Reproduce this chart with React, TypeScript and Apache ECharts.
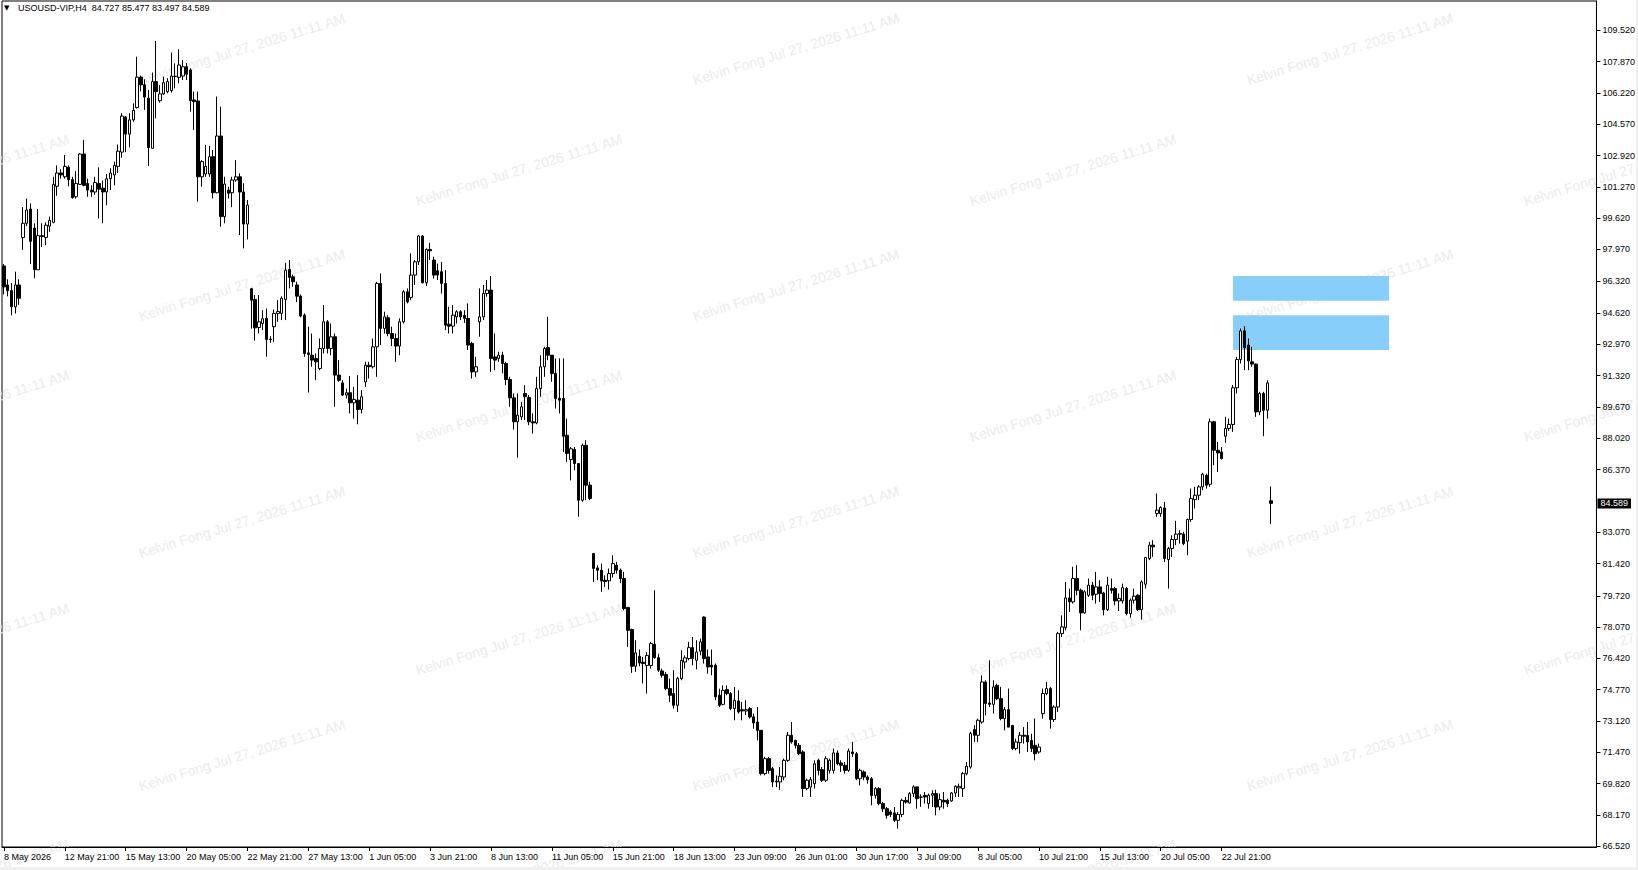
import React, { useEffect, useRef } from "react";
import * as echarts from "echarts";

// ---------- data ----------
const symbolTitle = "USOUSD-VIP,H4";
const lastQuote = ["84.727", "85.477", "83.497", "84.589"];
const currentPrice = 84.589;
const watermarkText = "Kelvin Fong Jul 27, 2026 11:11 AM";

const yTickValues = [
  66.52, 68.17, 69.82, 71.47, 73.12, 74.77, 76.42, 78.07, 79.72, 81.42, 83.07,
  86.37, 88.02, 89.67, 91.32, 92.97, 94.62, 96.32, 97.97, 99.62, 101.27, 102.92,
  104.57, 106.22, 107.87, 109.52,
];

const xTickLabels = [
  "8 May 2026", "12 May 21:00", "15 May 13:00", "20 May 05:00", "22 May 21:00",
  "27 May 13:00", "1 Jun 05:00", "3 Jun 21:00", "8 Jun 13:00", "11 Jun 05:00",
  "15 Jun 21:00", "18 Jun 13:00", "23 Jun 09:00", "26 Jun 01:00", "30 Jun 17:00",
  "3 Jul 09:00", "8 Jul 05:00", "10 Jul 21:00", "15 Jul 13:00", "20 Jul 05:00",
  "22 Jul 21:00",
];
const barsPerLabel = 16;
const slotCount = 419;

// zones drawn as rectangles: [fromBar, toBar, top price, bottom price]
const zones = [
  [323, 364, 96.57, 95.27],
  [323, 364, 94.5, 92.67],
];

// H4 candles, [open, high, low, close], grouped by trading week
const week1 = [
  [97.1, 97.2, 95.6, 96.0], [96.1, 96.4, 95.5, 95.8], [95.8, 96.2, 94.5, 94.95],
  [94.95, 96.8, 94.6, 96.1], [96.1, 96.4, 95.05, 95.4],
];
const week2 = [
  [98.6, 100.2, 97.95, 99.35], [99.35, 100.65, 99.2, 100.05], [100.1, 100.4, 97.2, 98.4],
  [99.1, 99.35, 96.45, 96.9], [96.9, 100.1, 96.9, 98.7], [98.7, 99.35, 98.1, 98.65],
  [98.6, 99.4, 98.2, 99.25], [99.2, 99.7, 98.9, 99.5], [99.4, 101.8, 99.35, 101.4],
  [101.3, 102.4, 100.8, 102.0], [102.0, 102.2, 101.7, 101.9], [101.8, 102.95, 101.7, 102.35],
  [102.3, 102.4, 101.3, 101.65], [101.65, 101.8, 100.65, 100.7], [100.75, 102.1, 100.65, 101.45],
  [101.4, 103.05, 101.4, 103.0], [103.0, 103.75, 101.3, 101.35], [101.45, 101.7, 100.75, 101.1],
  [101.1, 101.35, 100.75, 101.0], [101.0, 101.8, 100.85, 101.5], [101.45, 102.3, 99.6, 101.15],
  [101.2, 101.6, 99.35, 101.0], [101.0, 101.95, 100.3, 101.7], [101.7, 102.25, 101.1, 102.0],
  [101.9, 102.6, 101.35, 102.4], [102.35, 103.5, 102.0, 103.15], [103.1, 105.15, 102.8, 105.0],
  [104.95, 105.0, 103.1, 104.05], [104.05, 105.15, 103.35, 104.8], [104.8, 105.67, 104.7, 105.3],
];
const week3 = [
  [105.45, 108.13, 105.4, 107.05], [107.05, 107.13, 106.3, 106.65], [106.65, 106.94, 105.33, 106.0],
  [105.94, 106.38, 102.37, 103.34], [103.3, 107.29, 103.3, 106.82], [106.82, 108.96, 104.88, 106.29],
  [105.81, 106.64, 105.71, 106.17], [106.17, 107.08, 106.11, 106.76], [106.29, 107.0, 106.2, 106.82],
  [106.34, 108.35, 106.24, 107.11], [107.1, 107.78, 106.46, 107.08], [107.04, 108.52, 106.73, 107.69],
  [107.11, 107.96, 106.9, 107.6], [107.6, 107.8, 106.9, 107.2], [107.43, 107.52, 105.23, 105.81],
  [105.85, 106.29, 104.27, 105.76], [105.8, 106.29, 100.49, 101.8], [101.8, 102.68, 101.28, 102.6],
  [101.95, 103.48, 101.8, 102.35], [101.95, 103.43, 101.8, 102.86], [102.86, 103.21, 100.66, 100.96],
  [100.96, 106.03, 100.93, 103.95], [103.95, 105.5, 99.17, 99.7], [99.7, 101.8, 99.35, 101.42],
  [101.1, 101.27, 100.66, 100.93], [100.96, 101.8, 100.2, 101.63], [101.63, 102.68, 101.54, 101.8],
  [101.8, 101.98, 98.73, 101.0], [101.0, 101.46, 98.03, 99.31], [99.31, 100.58, 98.5, 100.31],
];
const week4 = [
  [95.9, 95.95, 93.8, 95.3], [95.34, 95.57, 93.16, 93.84], [93.86, 95.57, 93.55, 94.16],
  [94.07, 94.77, 93.72, 94.32], [94.34, 94.86, 92.31, 93.23], [93.25, 93.4, 93.05, 93.22],
  [93.9, 94.8, 93.1, 94.6], [94.6, 95.3, 94.16, 94.7], [94.6, 95.5, 94.25, 95.4],
  [95.34, 97.27, 94.25, 96.88], [96.92, 97.41, 95.92, 96.5], [96.53, 96.65, 96.0, 96.27],
  [96.1, 96.27, 95.2, 95.51], [95.51, 95.6, 94.39, 94.46], [94.51, 94.6, 92.31, 92.49],
  [92.52, 93.9, 90.43, 92.44], [92.4, 93.54, 91.79, 92.14], [92.23, 92.49, 91.08, 92.05],
  [91.7, 93.28, 91.61, 92.75], [92.75, 95.04, 92.49, 94.16], [94.16, 94.25, 92.49, 92.75],
  [92.75, 94.07, 92.4, 93.37], [93.37, 93.54, 89.68, 91.35], [91.35, 92.14, 91.0, 91.08],
  [90.94, 91.08, 90.24, 90.3], [90.3, 90.64, 90.12, 90.42], [90.42, 91.3, 89.33, 89.89],
  [89.89, 90.73, 89.06, 90.07], [90.03, 91.35, 88.76, 89.54], [89.54, 90.56, 89.33, 90.21],
];
const week5 = [
  [90.99, 92.05, 90.73, 91.87], [91.87, 92.05, 91.17, 91.79], [91.79, 93.28, 91.7, 92.84],
  [92.84, 96.27, 91.26, 96.18], [96.18, 96.71, 92.93, 93.81], [93.81, 94.69, 93.54, 94.42],
  [94.37, 94.51, 93.4, 93.54], [93.54, 93.9, 92.88, 93.28], [93.28, 93.54, 92.05, 92.88],
  [92.88, 94.34, 92.4, 94.16], [94.16, 95.83, 94.07, 95.74], [95.74, 95.92, 95.13, 95.21],
  [95.44, 97.76, 95.3, 96.62], [96.62, 97.41, 96.1, 97.32], [97.32, 98.73, 97.15, 98.68],
  [98.68, 98.73, 96.18, 96.22], [96.22, 98.03, 96.04, 97.97], [97.97, 98.32, 97.41, 97.9],
  [97.41, 97.59, 96.44, 96.62], [96.85, 97.23, 96.36, 96.62], [96.8, 97.32, 95.65, 96.18],
  [96.18, 96.88, 93.72, 93.98], [94.03, 94.95, 93.54, 93.93], [93.93, 95.04, 93.54, 94.51],
  [94.42, 94.77, 94.07, 94.69], [94.69, 94.77, 94.25, 94.42], [94.5, 94.77, 94.1, 94.34],
  [94.34, 95.13, 92.67, 92.93], [93.02, 93.1, 91.17, 91.52], [91.52, 92.31, 91.26, 91.79],
];
const week6 = [
  [94.16, 95.92, 93.37, 94.42], [94.42, 96.1, 94.25, 95.65], [95.65, 96.36, 95.48, 95.83],
  [95.83, 96.57, 91.52, 92.23], [92.31, 93.54, 91.61, 92.14], [92.23, 92.58, 92.05, 92.4],
  [92.4, 92.58, 91.44, 91.96], [91.96, 92.05, 90.82, 91.12], [91.12, 91.26, 89.68, 90.15],
  [90.15, 90.38, 88.48, 88.89], [88.89, 90.38, 87.0, 89.24], [89.15, 89.94, 88.98, 89.68],
  [90.38, 90.82, 88.98, 90.21], [90.17, 90.3, 88.71, 88.89], [88.89, 89.33, 88.27, 88.83],
  [88.83, 91.26, 88.76, 90.64], [90.64, 92.4, 90.21, 91.79], [91.79, 92.84, 91.26, 92.75],
  [92.8, 94.42, 92.14, 92.4], [92.4, 92.4, 91.0, 91.44], [91.44, 92.23, 89.59, 90.12],
  [90.12, 92.23, 89.33, 90.03], [90.12, 92.23, 87.3, 88.13], [88.18, 89.06, 86.78, 87.22],
  [86.9, 87.56, 85.8, 87.47], [87.43, 87.56, 86.34, 86.69], [86.69, 86.69, 83.88, 84.76],
  [84.76, 87.74, 84.67, 87.65], [87.65, 87.92, 84.76, 85.55], [85.55, 85.73, 84.76, 84.85],
];
const week7 = [
  [81.95, 81.95, 80.45, 81.16], [81.19, 81.33, 80.54, 81.07], [81.07, 81.42, 79.93, 80.5],
  [80.54, 80.8, 80.19, 80.47], [80.51, 81.16, 80.05, 80.89], [80.89, 81.86, 80.68, 81.42],
  [81.33, 81.51, 80.89, 81.07], [81.07, 81.16, 80.4, 80.63], [80.63, 80.98, 78.96, 79.05],
  [79.1, 79.14, 77.03, 77.9], [77.94, 77.99, 75.66, 76.01], [76.01, 77.38, 75.71, 76.71],
  [76.53, 76.89, 76.01, 76.18], [76.22, 76.5, 75.1, 76.15], [76.05, 76.76, 74.57, 76.58],
  [76.05, 77.29, 75.88, 77.2], [77.17, 80.01, 76.41, 76.46], [76.46, 76.67, 75.71, 75.8],
  [75.76, 75.88, 75.41, 75.53], [75.57, 75.71, 74.74, 74.83], [74.83, 75.36, 74.13, 74.48],
  [74.57, 75.8, 73.78, 73.95], [73.95, 75.45, 73.6, 75.36], [75.36, 76.85, 75.27, 76.32],
  [76.23, 76.58, 75.88, 76.45], [76.41, 77.29, 76.32, 76.99], [76.99, 77.55, 76.06, 76.41],
  [76.32, 77.38, 75.84, 76.76], [76.8, 77.47, 76.58, 77.29], [78.6, 78.64, 76.15, 76.41],
];
const week8 = [
  [76.5, 76.89, 75.62, 75.97], [76.06, 76.89, 75.53, 75.97], [76.06, 76.15, 74.22, 74.39],
  [74.48, 74.83, 73.86, 73.95], [74.0, 75.0, 73.95, 74.74], [74.78, 75.0, 74.48, 74.57],
  [74.57, 74.65, 73.69, 73.78], [73.78, 74.92, 73.16, 74.21], [74.18, 74.74, 73.51, 73.6],
  [73.72, 74.13, 73.16, 73.65], [73.65, 74.22, 73.43, 73.72], [73.78, 73.86, 73.25, 73.34],
  [73.34, 73.51, 72.72, 73.02], [73.07, 73.86, 72.1, 72.63], [72.63, 72.63, 70.26, 70.35],
  [70.35, 71.23, 70.26, 71.14], [71.14, 71.23, 70.35, 70.52], [70.61, 70.7, 69.64, 69.91],
  [69.96, 70.26, 69.64, 69.91], [69.91, 70.7, 69.5, 70.21], [70.17, 71.14, 70.0, 71.05],
  [71.05, 72.54, 70.96, 72.37], [72.37, 73.07, 71.93, 72.02], [72.1, 72.14, 71.67, 71.84],
  [71.84, 71.96, 71.32, 71.4], [71.49, 71.58, 69.12, 69.56], [69.56, 70.08, 69.47, 70.0],
  [69.64, 70.17, 69.12, 70.03], [69.82, 71.05, 69.56, 70.87],
];
const week9 = [
  [71.05, 71.14, 70.26, 70.52], [70.56, 70.7, 69.91, 70.0], [70.0, 71.27, 69.91, 71.14],
  [70.52, 71.14, 70.35, 71.05], [70.52, 71.67, 70.35, 71.44], [71.44, 71.58, 70.79, 70.87],
  [70.91, 71.05, 70.44, 70.79], [70.79, 70.96, 70.35, 70.52], [70.52, 71.67, 70.44, 71.54],
  [71.49, 72.02, 71.23, 71.4], [71.4, 71.49, 70.0, 70.08], [70.08, 70.61, 69.73, 70.52],
  [70.44, 70.52, 70.0, 70.17], [70.17, 70.26, 69.82, 70.03], [70.08, 70.17, 68.68, 69.2],
  [69.2, 69.64, 69.03, 69.56], [69.56, 69.64, 68.68, 68.77], [68.77, 68.86, 68.33, 68.5],
  [68.5, 68.59, 67.98, 68.15], [68.33, 68.42, 68.06, 68.2], [68.28, 68.59, 67.8, 67.89],
  [67.89, 68.33, 67.45, 68.2], [68.2, 69.03, 68.06, 68.94], [68.94, 69.12, 68.77, 68.85],
  [68.8, 69.38, 68.77, 69.29], [69.3, 69.74, 69.12, 69.65], [69.65, 69.68, 68.5, 69.03],
  [69.1, 69.26, 68.6, 69.12], [69.2, 69.38, 68.77, 69.12], [68.77, 69.3, 68.5, 69.21],
];
const week10 = [
  [69.21, 69.47, 68.6, 69.3], [69.3, 69.5, 68.15, 68.59], [68.59, 69.3, 68.42, 68.98],
  [68.94, 69.38, 68.5, 68.86], [68.94, 69.03, 68.59, 68.77], [68.91, 69.38, 68.86, 69.33],
  [69.33, 69.74, 69.12, 69.68], [69.6, 69.82, 69.12, 69.68], [69.56, 70.44, 69.12, 70.35],
  [70.35, 70.96, 70.26, 70.74], [70.7, 72.55, 70.61, 72.46], [72.67, 72.9, 72.02, 72.37],
  [72.37, 73.25, 72.02, 73.16], [73.07, 75.53, 72.98, 75.18], [75.18, 75.27, 73.42, 74.04],
  [74.07, 76.32, 73.86, 74.0], [74.0, 75.27, 73.51, 74.92], [75.0, 75.09, 74.22, 74.3],
  [74.3, 74.92, 73.16, 73.25], [73.25, 73.86, 72.63, 73.72], [73.72, 74.83, 72.8, 72.8],
  [72.89, 72.89, 71.58, 71.67], [71.67, 72.19, 71.58, 72.02], [71.98, 72.54, 71.4, 72.37],
  [72.37, 72.8, 71.93, 72.32], [72.37, 73.07, 71.49, 72.02], [72.1, 72.45, 71.49, 71.67],
  [71.84, 73.25, 71.05, 71.4], [71.49, 71.93, 71.4, 71.75],
];
const week11 = [
  [73.51, 74.83, 73.25, 74.57], [74.57, 75.18, 74.48, 74.83], [74.83, 74.92, 72.72, 73.2],
  [73.2, 73.95, 73.07, 73.86], [73.86, 77.82, 73.6, 77.73], [77.73, 78.69, 77.55, 78.08],
  [78.04, 80.45, 77.9, 79.61], [79.61, 80.1, 78.87, 79.4], [79.4, 81.25, 79.31, 80.63],
  [80.63, 81.33, 79.75, 80.01], [80.01, 80.1, 77.9, 78.82], [78.82, 80.01, 78.78, 79.93],
  [79.75, 80.63, 79.66, 80.28], [80.28, 80.45, 79.49, 79.75], [79.8, 80.98, 79.31, 80.19],
  [80.19, 80.54, 79.4, 79.84], [79.87, 79.93, 78.69, 78.99], [78.99, 80.72, 78.92, 80.28],
  [80.1, 80.63, 79.84, 80.01], [80.1, 80.19, 79.22, 79.45], [79.45, 79.84, 78.92, 79.58],
  [79.45, 80.36, 79.31, 80.15], [80.1, 80.19, 78.69, 78.78], [78.78, 79.58, 78.57, 79.49],
  [79.49, 80.1, 79.31, 79.7], [79.75, 79.8, 78.92, 78.99], [78.99, 80.54, 78.46, 80.45],
  [80.33, 81.77, 80.1, 81.74], [81.68, 82.56, 81.6, 82.39], [82.39, 82.65, 81.77, 82.3],
];
const week12 = [
  [84.06, 85.11, 83.88, 84.23], [84.05, 84.44, 83.88, 84.37], [84.35, 84.67, 81.5, 81.68],
  [81.63, 82.3, 80.1, 82.21], [82.21, 82.91, 81.77, 82.69], [82.69, 83.67, 82.39, 82.97],
  [83.0, 83.18, 82.47, 82.97], [82.97, 83.09, 82.39, 82.47], [82.6, 83.79, 81.86, 83.74],
  [83.74, 85.37, 83.62, 84.85], [84.79, 85.46, 84.32, 85.02], [85.02, 85.55, 84.76, 85.46],
  [85.46, 86.2, 85.29, 86.13], [86.07, 86.16, 85.37, 85.55], [85.6, 89.06, 85.46, 88.89],
  [88.89, 88.94, 86.6, 87.39], [87.39, 87.83, 86.25, 87.25], [87.3, 87.56, 86.9, 86.95],
  [88.13, 89.15, 87.78, 88.54], [88.54, 89.06, 88.41, 88.75], [88.75, 90.82, 88.36, 90.68],
  [90.68, 92.31, 90.38, 92.17], [92.17, 93.81, 91.96, 93.68], [93.68, 93.93, 91.61, 92.8],
  [92.93, 93.28, 91.61, 92.1], [92.05, 92.84, 91.79, 91.93], [91.93, 91.96, 89.15, 89.41],
  [89.41, 90.47, 89.24, 90.38], [90.38, 90.47, 88.13, 89.5], [89.5, 91.08, 89.06, 90.94],
];
const week13 = [[84.727, 85.477, 83.497, 84.589]];

const weeks = [week1, week2, week3, week4, week5, week6, week7, week8, week9, week10, week11, week12, week13];

// ---------- layout ----------
const W = 1638;
const H = 870;
const FONT = "Liberation Sans, Arial, DejaVu Sans, sans-serif";
const wmRowsA = [49, 285, 522, 755];
const wmColsA = [242, 796, 1350];
const wmRowsB = [170, 406, 639, 875];
const wmColsB = [-34, 519, 1073, 1627];

export default function App() {
  const ref = useRef<HTMLDivElement>(null);

  useEffect(() => {
    if (!ref.current) return;
    const chart = echarts.init(ref.current, undefined, { renderer: "svg" });

    const ohlc = weeks.flat();
    const candleData = ohlc.map(([o, h, l, c]) => [o, c, l, h]);
    const categories = Array.from({ length: slotCount }, (_, i) => String(i));
    const showTick = (index: number) =>
      index % barsPerLabel === 0 && index / barsPerLabel < xTickLabels.length;

    const wmAngle = (17 * Math.PI) / 180;
    const watermarks: any[] = [];
    wmRowsA.forEach((cy) =>
      wmColsA.forEach((cx) => watermarks.push({ cx, cy }))
    );
    wmRowsB.forEach((cy) =>
      wmColsB.forEach((cx) => watermarks.push({ cx, cy }))
    );

    const graphicElements: any[] = watermarks.map((p) => ({
      type: "text",
      x: p.cx,
      y: p.cy,
      rotation: wmAngle,
      silent: true,
      z: 0,
      style: {
        text: watermarkText,
        fontFamily: FONT,
        fontSize: 14,
        fill: "#ebebeb",
        align: "center",
        verticalAlign: "middle",
      },
    }));
    graphicElements.push(
      {
        type: "text",
        x: 4,
        y: 4,
        z: 10,
        silent: true,
        style: { text: "▼", fontFamily: "DejaVu Sans", fontSize: 7, fill: "#000" },
      },
      {
        type: "text",
        x: 18,
        y: 3,
        z: 10,
        silent: true,
        style: {
          text: `${symbolTitle}  ${lastQuote.join(" ")}`,
          fontFamily: FONT,
          fontSize: 9,
          fill: "#000",
        },
      },
      {
        type: "rect",
        z: 10,
        silent: true,
        shape: { x: 0, y: H - 3, width: W, height: 3 },
        style: { fill: "#f0f0f0" },
      },
      {
        type: "rect",
        z: 10,
        silent: true,
        shape: { x: W - 2, y: 0, width: 2, height: H },
        style: { fill: "#f0f0f0" },
      }
    );

    chart.setOption({
      animation: false,
      backgroundColor: "#ffffff",
      grid: {
        left: 2,
        right: 40,
        top: 1,
        bottom: 23,
        show: true,
        borderColor: "#000",
        borderWidth: 1,
      },
      xAxis: {
        type: "category",
        data: categories,
        boundaryGap: true,
        axisLine: { lineStyle: { color: "#000", width: 1 } },
        axisTick: {
          show: true,
          interval: showTick,
          alignWithLabel: true,
          length: 4,
          lineStyle: { color: "#000" },
        },
        axisLabel: {
          interval: showTick,
          formatter: (_v: string, index: number) =>
            xTickLabels[Math.floor(index / barsPerLabel)] ?? "",
          align: "left",
          margin: 5,
          fontSize: 9,
          fontFamily: FONT,
          color: "#000",
        },
        splitLine: { show: false },
      },
      yAxis: {
        type: "value",
        position: "right",
        min: 66.483,
        max: 111.064,
        scale: true,
        axisLine: { show: true, lineStyle: { color: "#000", width: 1 } },
        axisTick: {
          show: true,
          customValues: yTickValues,
          length: 4,
          lineStyle: { color: "#000" },
        },
        axisLabel: {
          customValues: yTickValues,
          formatter: (v: number) => v.toFixed(3),
          margin: 6,
          fontSize: 9,
          fontFamily: FONT,
          color: "#000",
        },
        splitLine: { show: false },
      },
      graphic: { elements: graphicElements },
      series: [
        {
          type: "candlestick",
          data: candleData,
          barWidth: 3,
          z: 5,
          itemStyle: {
            color: "#ffffff",
            color0: "#000000",
            borderColor: "#000000",
            borderColor0: "#000000",
            borderWidth: 1,
          },
          markArea: {
            silent: true,
            itemStyle: { color: "#87cefa", opacity: 1 },
            data: zones.map(([x0, x1, top, bottom]) => [
              { xAxis: x0, yAxis: top },
              { xAxis: x1, yAxis: bottom },
            ]),
          },
          markLine: {
            silent: true,
            symbol: ["none", "none"],
            lineStyle: { color: "rgba(0,0,0,0)", width: 1, type: "solid" },
            data: [{ yAxis: currentPrice }],
            label: {
              show: true,
              position: "end",
              formatter: currentPrice.toFixed(3),
              backgroundColor: "#000000",
              color: "#ffffff",
              padding: [1, 3, 0, 3],
              fontSize: 9,
              fontFamily: FONT,
              distance: 1,
            },
          },
        },
      ],
    });

    return () => chart.dispose();
  }, []);

  return (
    <div
      ref={ref}
      style={{ position: "absolute", left: 0, top: 0, width: W, height: H }}
    />
  );
}
